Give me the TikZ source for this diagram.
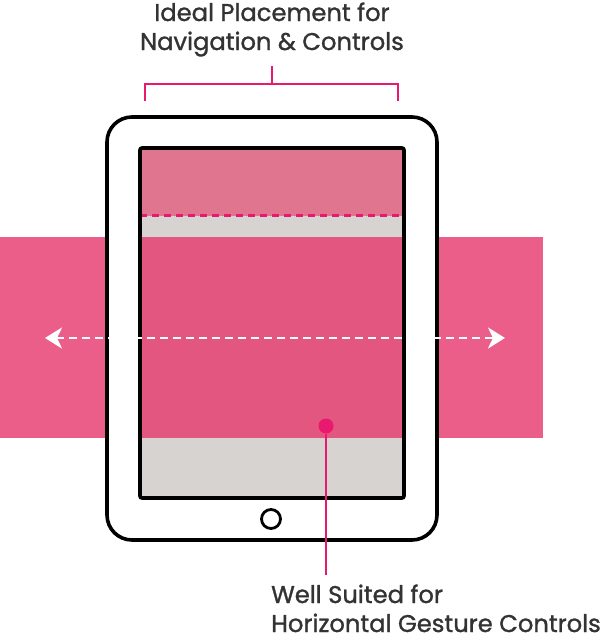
\documentclass[tikz,border=0pt]{standalone}
\usepackage{fontspec}
\setmainfont{Poppins}[FakeBold=1.2]
\usetikzlibrary{arrows.meta, positioning}
\definecolor{bandcolor}{RGB}{236,94,138}
\definecolor{screenpink}{RGB}{226,86,127}
\definecolor{navcolor}{RGB}{224,117,144}
\definecolor{screengray}{RGB}{214,211,208}
\definecolor{accent}{RGB}{232,25,110}
\definecolor{labelgray}{RGB}{51,51,51}

\begin{document}
\begin{tikzpicture}[
    x=1pt, y=-1pt,
    caption/.style={font=\fontsize{24.2}{29}\selectfont, text=labelgray, inner sep=0pt},
    outline/.style={draw=black, line width=3.6pt},
    bracket/.style={draw=accent, line width=2.8pt},
    swipe/.style={draw=white, line width=2.8pt, dash pattern=on 8pt off 5pt,
        {Stealth[length=17pt, width=21pt, inset=5pt, fill=white]}-{Stealth[length=17pt, width=21pt, inset=5pt, fill=white]}}
]
    \useasboundingbox (0,0) rectangle (614,640);

    % Gesture band behind the tablet
    \fill[bandcolor] (0,237) rectangle (543,438);

    % Tablet body and screen
    \draw[outline, fill=white, rounded corners=25pt] (107,117) rectangle (437,540);
    \fill[navcolor] (140,148) rectangle (404,216);
    \fill[screengray] (140,216) rectangle (404,237);
    \fill[screenpink] (140,237) rectangle (404,438);
    \fill[screengray] (140,438) rectangle (404,498);
    \draw[accent, line width=3pt, dash pattern=on 7pt off 5pt] (140,215) -- (404,215);
    \draw[outline, rounded corners=2pt] (140,148) rectangle (404,498);
    \node[circle, draw=black, line width=2.8pt, minimum size=19pt, inner sep=0pt] (home) at (271,519) {};

    % Horizontal swipe arrow
    \coordinate (swipeL) at (45,338);
    \coordinate (swipeR) at (505,338);
    \draw[swipe] (swipeL) -- (swipeR);

    % Top label and bracket
    \node[caption, align=center, anchor=base] (navlabel) at (272,50) {Ideal Placement for\\Navigation \& Controls};
    \coordinate (brL) at (145,101);
    \coordinate (brR) at (398,101);
    \coordinate (brTop) at (272,66);
    \draw[bracket] (brL) -- (145,84) -- (398,84) -- (brR);
    \draw[bracket] (brTop) -- (272,84);

    % Bottom label and callout
    \node[circle, fill=accent, minimum size=15pt, inner sep=0pt] (dot) at (326,426) {};
    \node[caption, align=left, anchor=base west, text depth=0pt] (gesturelabel) at (271,632) {Well Suited for\\Horizontal Gesture Controls};
    \coordinate (calloutEnd) at (326,575);
    \draw[accent, line width=2.8pt] (dot) -- (calloutEnd);
\end{tikzpicture}
\end{document}
